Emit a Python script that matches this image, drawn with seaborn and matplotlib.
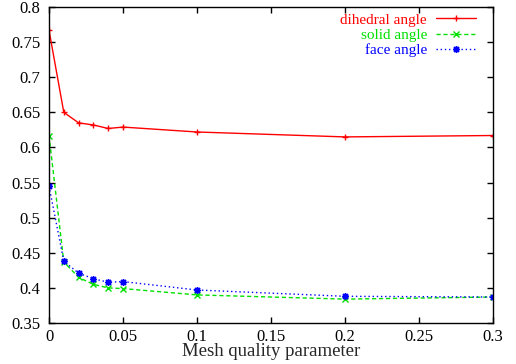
import matplotlib
matplotlib.use("Agg")
import matplotlib.pyplot as plt
import seaborn as sns
import pandas as pd

x_vals = [0, 0.01, 0.02, 0.03, 0.04, 0.05, 0.1, 0.2, 0.3]
dihedral = [0.767, 0.650, 0.635, 0.632, 0.627, 0.629, 0.622, 0.615, 0.617]
solid = [0.617, 0.437, 0.415, 0.405, 0.400, 0.399, 0.390, 0.384, 0.387]
face = [0.545, 0.438, 0.421, 0.413, 0.408, 0.409, 0.397, 0.388, 0.387]

labels = ["dihedral angle", "solid angle", "face angle"]
colors = ["#ff0000", "#00e000", "#0000ff"]
styles = ["-", (0, (3, 2)), (0, (1, 2))]
markers = ["+", "x", (8, 2, 0)]

sns.set_style("ticks")
plt.rcParams['font.family'] = ['Liberation Serif', 'DejaVu Serif']

fig = plt.figure(figsize=(5.16, 3.64), dpi=100)
ax = fig.add_axes([49/516, 1-323/364, (493-49)/516, (323-7)/364])

for ys, lab, c, ls, m in zip([dihedral, solid, face], labels, colors, styles, markers):
    df = pd.DataFrame({"x": x_vals, "y": ys})
    sns.lineplot(data=df, x="x", y="y", ax=ax, color=c, linestyle=ls, marker=m,
                 markersize=5, markeredgewidth=1, markeredgecolor=c, markerfacecolor=c,
                 linewidth=1, label=lab)

ax.set_xlim(0, 0.3)
ax.set_ylim(0.35, 0.8)
ax.set_xticks([0, 0.05, 0.1, 0.15, 0.2, 0.25, 0.3])
ax.set_xticklabels(["0", "0.05", "0.1", "0.15", "0.2", "0.25", "0.3"])
ax.set_yticks([0.35, 0.4, 0.45, 0.5, 0.55, 0.6, 0.65, 0.7, 0.75, 0.8])
ax.set_yticklabels(["0.35", "0.4", "0.45", "0.5", "0.55", "0.6", "0.65", "0.7", "0.75", "0.8"])
ax.tick_params(direction="in", top=True, right=True, length=4, width=1, labelsize=12, colors="black", pad=6)
ax.tick_params(axis="x", pad=4)
for s in ax.spines.values():
    s.set_visible(True)
    s.set_linewidth(1)
    s.set_color("black")
ax.set_xlabel("Mesh quality parameter", fontsize=13.5, labelpad=-1)
ax.set_ylabel("")

leg = ax.legend(loc="upper right", frameon=False, markerfirst=False, labelcolor="linecolor",
                fontsize=11, handlelength=2.6, handletextpad=0.6, labelspacing=0.1,
                borderaxespad=0, borderpad=0,
                bbox_to_anchor=((476 - 49) / 444, (323 - 13) / 316))
for t in leg.get_texts():
    t.set_ha("right")

fig.savefig("out.png", dpi=100)
